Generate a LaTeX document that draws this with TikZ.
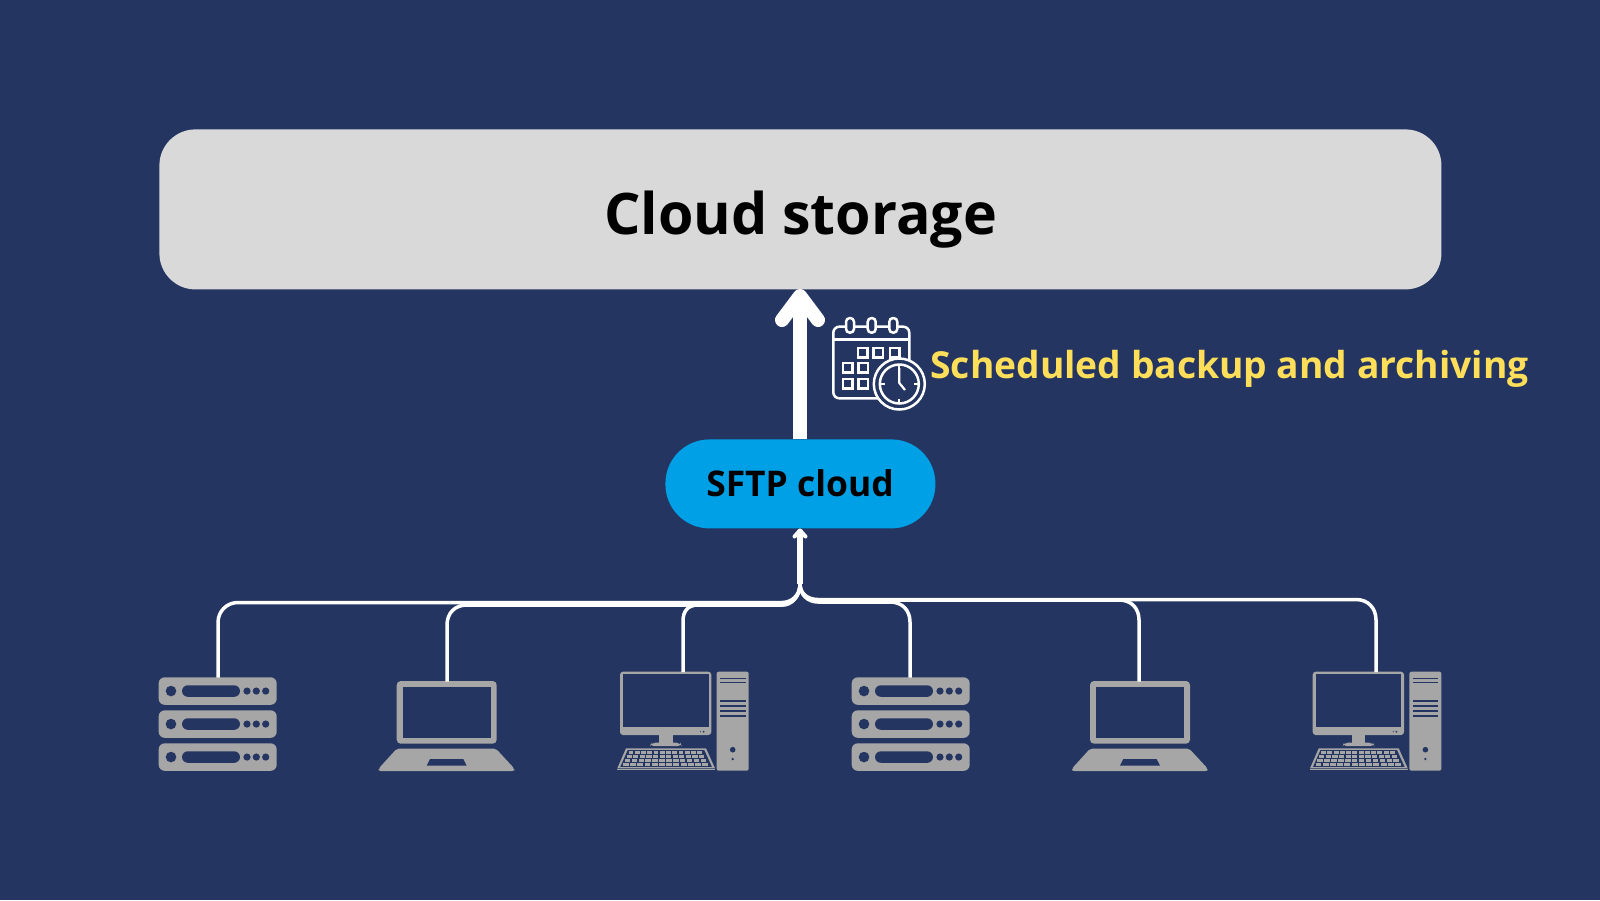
\documentclass[tikz,border=0pt]{standalone}
\usepackage{fontspec}
\setmainfont{Open Sans}
\definecolor{bgc}{HTML}{233560}
\definecolor{boxc}{HTML}{D9D9D9}
\definecolor{bluec}{HTML}{00A0E6}
\definecolor{grayc}{HTML}{A6A6A6}
\definecolor{yelc}{HTML}{FFDE59}
\tikzset{
 conn/.style={draw=white,line width=1.75pt},
 ico/.style={draw=white,line width=1.25pt},
 tick/.style={draw=white,line width=1.1pt},
 pics/serverrow/.style={code={
   \fill[grayc,rounded corners=3pt] (0,0) rectangle (118,27.5);
   \fill[bgc] (12.3,13.75) circle[radius=5.3];
   \fill[bgc,rounded corners=2.9pt] (23.3,8) rectangle (81.3,19.5);
   \foreach \x in {88.3,97.6,107}{\fill[bgc] (\x,13.75) circle[radius=3.6];}
 }},
 pics/servericon/.style={code={
   \pic at (0,0) {serverrow};
   \pic at (0,33) {serverrow};
   \pic at (0,66) {serverrow};
 }},
 pics/laptopicon/.style={code={
   \fill[grayc,rounded corners=2pt] (18,0) rectangle (118,62.7);
   \fill[bgc] (24,5.7) rectangle (112.3,57);
   \fill[grayc,rounded corners=1pt] (18,67.7) -- (117.3,67.7) -- (135.6,87.5) -- (135.6,90) -- (0,90) -- (0,87.5) -- cycle;
   \fill[bgc] (51.3,78) -- (84.6,78) -- (88,84.7) -- (48,84.7) -- cycle;
 }},
 pics/desktopicon/.style={code={
   \fill[grayc,rounded corners=1.5pt] (2.7,0) rectangle (94,63.3);
   \fill[bgc] (6,2.7) rectangle (91.4,55);
   \fill[bgc] (83.3,60) circle[radius=.6] (86.3,60) circle[radius=1];
   \fill[grayc] (41.7,63) rectangle (55.4,71);
   \fill[grayc,rounded corners=2pt] (32.7,74.5) -- (34,71) -- (63,71) -- (64.4,74.5) -- cycle;
   \fill[grayc] (8.7,76.6) -- (88.7,76.6) -- (97.7,96.6) -- (0,96.6) -- cycle;
   \fill[grayc] (0,97.4) rectangle (97.7,98.6);
   \fill[bgc] (10.4,78.4) -- (87,78.4) -- (94.6,95.2) -- (3,95.2) -- cycle;
   \foreach \r in {0,1,2,3}{
     \pgfmathsetmacro{\ya}{79.6+\r*3.95}
     \pgfmathsetmacro{\xs}{11.2-\r*1.9}
     \pgfmathsetmacro{\stp}{6.25+\r*0.33}
     \foreach \c in {0,...,11}{
       \pgfmathsetmacro{\xa}{\xs+\c*\stp}
       \fill[grayc] (\xa,\ya) rectangle ++(\stp-1.4,2.6);
     }
   }
   \fill[grayc,rounded corners=1pt] (99.4,0) rectangle (131.4,99);
   \foreach \y/\h in {6/1.2,10.4/1.2,28.7/1.9,33.4/1.9,38.4/1.9,43/1.9}{
     \fill[bgc] (102.7,\y) rectangle (128.4,\y+\h);
   }
   \fill[bgc] (115.4,78) circle[radius=2.8] (115.4,87.3) circle[radius=1.3];
 }},
 pics/calsquare/.style={code={\draw[ico,line width=1.2pt] (0,0) rectangle (9.5,9.5);}},
}
\begin{document}
\begin{tikzpicture}[x=0.5pt,y=-0.5pt]
\useasboundingbox (0,0) rectangle (1600,900);
\fill[bgc] (0,0) rectangle (1600,900);

\node[fill=boxc,rounded corners=18pt,minimum width=641pt,minimum height=80pt,inner sep=0pt,anchor=north west] (cloud) at (159,129) {};
\node[anchor=base,inner sep=0pt,font=\fontsize{28.65}{36}\selectfont\bfseries,text=black] (cloudtxt) at (800.5,234.5) {Cloud storage};
\node[fill=bluec,rounded corners=22pt,minimum width=135pt,minimum height=44.5pt,inner sep=0pt,anchor=north west] (sftp) at (665,439) {};
\node[anchor=base,inner sep=0pt,font=\fontsize{17.7}{20}\selectfont\bfseries,text=black] (sftptxt) at (800,496) {SFTP cloud};
\node[anchor=base,inner sep=0pt,font=\fontsize{18.6}{22}\selectfont\bfseries,text=yelc] (sched) at (1229.5,378) {Scheduled backup and archiving};

\coordinate (bigtip) at (800,296);
\coordinate (bigwl) at (782,320);
\coordinate (bigwr) at (818,320);
\coordinate (sftptop) at (800,439);
\draw[white,line width=7pt] (sftptop) -- (bigtip);
\draw[white,line width=7pt,line cap=round,line join=round] (bigwl) -- (bigtip) -- (bigwr);

\pic at (158.7,677.3) {servericon};
\pic at (378.7,681) {laptopicon};
\pic at (617.3,671.7) {desktopicon};
\pic at (851.7,677.3) {servericon};
\pic at (1072,681) {laptopicon};
\pic at (1310,671.7) {desktopicon};

\coordinate (srvA) at (218,677.5);
\coordinate (lapA) at (447,681.5);
\coordinate (dskA) at (683,672);
\coordinate (srvB) at (910,677.5);
\coordinate (lapB) at (1139,681.5);
\coordinate (dskB) at (1376,672);
\coordinate (hub) at (800,584);
\coordinate (sftpbot) at (800,530);

\draw[conn] (srvA) -- (218,622.5) .. controls (218,611) and (227,602.5) .. (238,602.5) -- (782,602.5) .. controls (792,602.5) and (800,595) .. (hub);
\draw[conn] (lapA) -- (447,625) .. controls (447,613) and (455,605) .. (467,605) -- (782,605) .. controls (792,605) and (800,596) .. (hub);
\draw[conn] (dskA) -- (683,621) .. controls (683,611) and (688,605) .. (698,605) -- (782,605) .. controls (792,605) and (800,596) .. (hub);
\draw[conn] (srvB) -- (910,622) .. controls (910,610) and (902,602) .. (890,602) -- (818,602) .. controls (808,602) and (800,595) .. (hub);
\draw[conn] (lapB) -- (1139,620) .. controls (1139,608) and (1131,600) .. (1119,600) -- (818,600) .. controls (808,600) and (800,594) .. (hub);
\draw[conn] (dskB) -- (1376,620) .. controls (1376,608) and (1368,599.5) .. (1356,599.5) -- (818,599.5) .. controls (808,599.5) and (800,594) .. (hub);
\draw[draw=white,line width=2.6pt] (hub) -- (sftpbot);
\draw[white,line width=2pt,line cap=round,line join=round] (794.5,536.5) -- (800,530.5) -- (805.5,536.5);

\draw[ico,rounded corners=3pt] (880,398.3) -- (833.3,398.3) -- (833.3,326.7) -- (909.3,326.7) -- (909.3,365);
\draw[ico] (833.3,339.3) -- (909.3,339.3);
\foreach \x in {850,871.7,893.3}{
  \draw[ico,fill=bgc,rounded corners=1.9pt] (\x-4,318) rectangle (\x+4,332.7);
}
\foreach \x/\y in {858/348,873.5/348,890/348,843/363,858.5/363,843/379,858.5/379}{
  \pic at (\x,\y) {calsquare};
}
\draw[ico,fill=bgc] (899.3,384) circle[radius=25.5];
\draw[ico] (899.3,384) circle[radius=19.5];
\draw[tick] (899.3,364.5) -- (899.3,369.5) (899.3,398.5) -- (899.3,403.5)
  (879.8,384) -- (884.8,384) (913.8,384) -- (918.8,384);
\draw[tick,line join=round] (899.3,368) -- (899.3,383) -- (905,390);
\end{tikzpicture}
\end{document}
